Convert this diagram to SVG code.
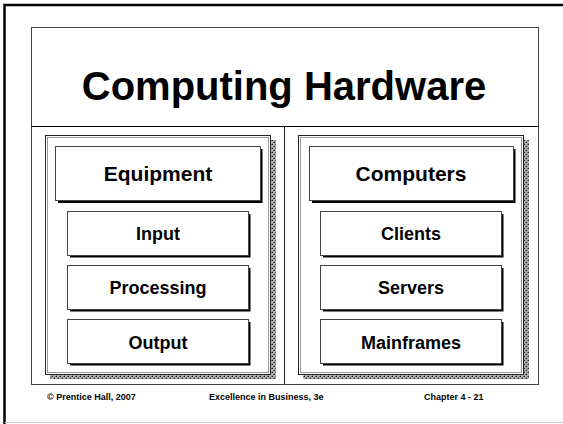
<svg xmlns="http://www.w3.org/2000/svg" width="563" height="424" viewBox="0 0 563 424">
<defs>
<pattern id="tex" width="4" height="4" patternUnits="userSpaceOnUse">
<rect width="4" height="4" fill="#b0b0b0"/>
<rect x="0" y="0" width="1" height="1" fill="#222"/>
<rect x="2" y="2" width="1" height="1" fill="#222"/>
<rect x="1" y="2" width="1" height="1" fill="#666"/>
<rect x="3" y="0" width="1" height="1" fill="#666"/>
<rect x="2" y="1" width="1" height="1" fill="#888"/>
<rect x="0" y="3" width="1" height="1" fill="#888"/>
</pattern>
</defs>
<style>
.box{fill:#fff;stroke:#444;stroke-width:1}
.shadow{fill:#000}
.panel{fill:#fff;stroke:#222;stroke-width:1}
.panelin{fill:none;stroke:#999;stroke-width:1}
.t{font-family:"Liberation Sans",Arial,sans-serif;font-weight:bold;fill:#000;text-anchor:middle}
.f{font-family:"Liberation Sans",Arial,sans-serif;font-weight:bold;font-size:9px;fill:#000}
</style>
<rect width="563" height="424" fill="#fff"/>
<g id="frame">
<path d="M4.5,424 V5 H563" fill="none" stroke="#000" stroke-width="2.5"/>
<line x1="5" y1="422.5" x2="563" y2="422.5" stroke="#ccc" stroke-width="1"/>
<rect x="31.5" y="27.5" width="507" height="357" fill="#fff" stroke="#444" stroke-width="1"/>
<line x1="31.5" y1="126.5" x2="538.5" y2="126.5" stroke="#000" stroke-width="1"/>
<line x1="284.5" y1="126.5" x2="284.5" y2="384.5" stroke="#222" stroke-width="1"/>
</g>
<g id="title">
<text class="t" x="284" y="100" font-size="40">Computing Hardware</text>
</g>
<g id="panel-left">
<rect x="271" y="140" width="5" height="239" fill="url(#tex)"/>
<rect x="50" y="375" width="226" height="4" fill="url(#tex)"/>
<rect class="panel" x="45.5" y="135.5" width="225" height="239"/>
<rect class="panelin" x="47.5" y="137.5" width="221" height="235"/>
</g>
<g id="panel-right">
<rect x="524" y="140" width="5" height="239" fill="url(#tex)"/>
<rect x="303" y="375" width="226" height="4" fill="url(#tex)"/>
<rect class="panel" x="298.5" y="135.5" width="225" height="239"/>
<rect class="panelin" x="300.5" y="137.5" width="221" height="235"/>
</g>
<g id="equipment">
<rect class="shadow" x="58" y="149" width="204.5" height="54"/>
<rect class="box" x="55.5" y="146.5" width="205" height="54"/>
<text class="t" x="158" y="181" font-size="21">Equipment</text>
</g>
<g id="input">
<rect class="shadow" x="70" y="214" width="180.5" height="43.5"/>
<rect class="box" x="67.5" y="211.5" width="181" height="44"/>
<text class="t" x="158" y="240" font-size="18">Input</text>
</g>
<g id="processing">
<rect class="shadow" x="70" y="268" width="180.5" height="43.5"/>
<rect class="box" x="67.5" y="265.5" width="181" height="44"/>
<text class="t" x="158" y="294" font-size="18">Processing</text>
</g>
<g id="output">
<rect class="shadow" x="70" y="322" width="180.5" height="43.5"/>
<rect class="box" x="67.5" y="319.5" width="181" height="44"/>
<text class="t" x="158" y="349" font-size="18">Output</text>
</g>
<g id="computers">
<rect class="shadow" x="312" y="149" width="203.5" height="54"/>
<rect class="box" x="309.5" y="146.5" width="204" height="54"/>
<text class="t" x="411" y="181" font-size="21">Computers</text>
</g>
<g id="clients">
<rect class="shadow" x="323" y="214" width="180.5" height="43.5"/>
<rect class="box" x="320.5" y="211.5" width="181" height="44"/>
<text class="t" x="411" y="240" font-size="18">Clients</text>
</g>
<g id="servers">
<rect class="shadow" x="323" y="268" width="180.5" height="43.5"/>
<rect class="box" x="320.5" y="265.5" width="181" height="44"/>
<text class="t" x="411" y="294" font-size="18">Servers</text>
</g>
<g id="mainframes">
<rect class="shadow" x="323" y="322" width="180.5" height="43.5"/>
<rect class="box" x="320.5" y="319.5" width="181" height="44"/>
<text class="t" x="411" y="349" font-size="18">Mainframes</text>
</g>
<g id="connectors"></g>
<g id="footer">
<text class="f" x="47" y="400">© Prentice Hall, 2007</text>
<text class="f" x="209" y="400">Excellence in Business, 3e</text>
<text class="f" x="424" y="400">Chapter 4 - 21</text>
</g>
</svg>
